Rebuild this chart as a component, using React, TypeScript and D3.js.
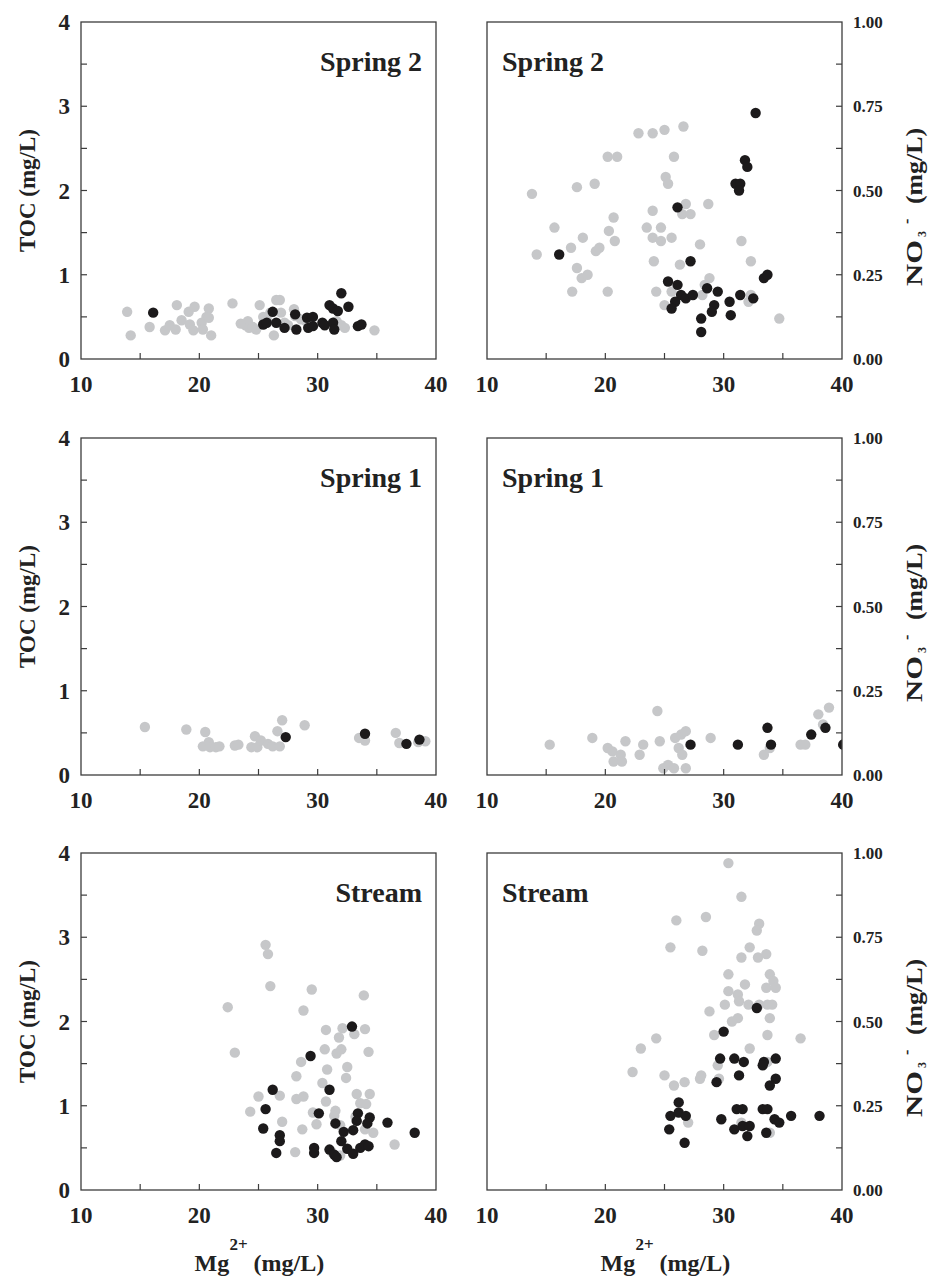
import React from 'react';
import * as d3 from 'd3';

// ---------- data: [Mg2+ (mg/L), value] ----------
const spring2TocGray: [number, number][] = [
  [13.9,0.56],[14.2,0.28],[15.8,0.38],[17.1,0.34],[17.5,0.40],[18.0,0.35],[18.1,0.64],[18.5,0.46],[19.1,0.56],[19.6,0.62],
  [19.2,0.41],[19.5,0.34],[20.2,0.43],[20.3,0.35],[20.6,0.50],[20.8,0.60],[20.8,0.49],[21.0,0.28],[22.8,0.66],[23.5,0.42],
  [23.9,0.40],[24.1,0.45],[24.2,0.37],[24.5,0.38],[24.8,0.35],[25.1,0.64],[25.4,0.50],[25.7,0.47],[26.0,0.55],[26.3,0.28],
  [26.5,0.70],[26.8,0.70],[26.9,0.55],[27.2,0.43],[27.5,0.40],[28.0,0.59],[28.1,0.51],[28.6,0.47],[29.0,0.45],[31.6,0.45],
  [32.0,0.40],[32.3,0.37],[34.8,0.34]
];
const spring2TocBlack: [number, number][] = [
  [16.1,0.55],[25.4,0.41],[25.7,0.43],[26.2,0.56],[26.5,0.43],[27.2,0.37],[28.1,0.53],[28.2,0.35],[29.1,0.49],[29.2,0.37],
  [29.6,0.50],[29.6,0.39],[30.4,0.43],[30.6,0.40],[31.0,0.64],[31.3,0.60],[31.3,0.43],[31.4,0.35],[31.7,0.57],[32.0,0.78],
  [32.6,0.62],[33.4,0.39],[33.7,0.41]
];
const spring2No3Gray: [number, number][] = [
  [13.8,0.49],[14.2,0.31],[15.7,0.39],[17.1,0.33],[17.2,0.20],[17.6,0.51],[17.6,0.27],[18.0,0.24],[18.1,0.36],[18.5,0.25],
  [19.1,0.52],[19.2,0.32],[19.5,0.33],[20.2,0.60],[20.3,0.38],[20.2,0.20],[20.7,0.42],[20.8,0.35],[21.0,0.60],[22.8,0.67],
  [23.5,0.39],[24.0,0.67],[24.0,0.44],[24.0,0.36],[24.1,0.29],[24.3,0.20],[24.7,0.39],[24.7,0.35],[25.0,0.68],[25.1,0.54],
  [25.3,0.52],[25.0,0.16],[25.6,0.20],[25.6,0.36],[25.8,0.60],[26.3,0.28],[26.6,0.69],[26.8,0.46],[26.5,0.43],[27.2,0.43],
  [28.0,0.34],[28.2,0.19],[28.7,0.46],[28.8,0.24],[28.4,0.22],[31.5,0.35],[32.3,0.29],[32.3,0.19],[32.1,0.17],[34.7,0.12]
];
const spring2No3Black: [number, number][] = [
  [16.1,0.31],[26.1,0.45],[32.7,0.73],[31.8,0.59],[32.0,0.57],[31.0,0.52],[31.4,0.52],[31.3,0.50],[27.2,0.29],[25.3,0.23],
  [26.1,0.22],[26.4,0.19],[26.8,0.18],[27.4,0.19],[25.9,0.17],[25.6,0.15],[28.6,0.21],[29.5,0.20],[29.2,0.16],[29.0,0.14],
  [28.1,0.12],[28.1,0.08],[30.5,0.17],[30.6,0.13],[31.4,0.19],[32.5,0.18],[33.4,0.24],[33.7,0.25]
];
const spring1TocGray: [number, number][] = [
  [15.4,0.57],[18.9,0.54],[20.5,0.51],[20.3,0.34],[20.8,0.39],[20.9,0.33],[21.4,0.33],[21.7,0.34],[23.0,0.35],[23.3,0.36],
  [24.4,0.33],[24.7,0.46],[24.9,0.33],[25.2,0.41],[25.8,0.37],[26.2,0.34],[26.6,0.52],[26.8,0.34],[27.0,0.65],[28.9,0.59],
  [33.5,0.44],[34.0,0.41],[36.6,0.50],[36.9,0.38],[38.5,0.39],[39.1,0.40]
];
const spring1TocBlack: [number, number][] = [[27.3,0.45],[34.0,0.49],[37.5,0.37],[38.6,0.42]];
const spring1No3Gray: [number, number][] = [
  [15.3,0.09],[18.9,0.11],[20.2,0.08],[20.6,0.07],[21.3,0.06],[20.7,0.04],[21.4,0.04],[21.7,0.10],[22.9,0.06],[23.2,0.09],
  [24.4,0.19],[24.6,0.10],[24.9,0.02],[25.3,0.03],[25.8,0.02],[25.9,0.11],[26.2,0.08],[26.4,0.12],[26.5,0.06],[26.8,0.13],
  [26.8,0.02],[28.9,0.11],[33.4,0.06],[33.9,0.08],[36.5,0.09],[36.9,0.09],[38.0,0.18],[38.9,0.20],[38.4,0.15]
];
const spring1No3Black: [number, number][] = [[27.2,0.09],[31.2,0.09],[33.7,0.14],[34.0,0.09],[37.4,0.12],[38.6,0.14],[40.1,0.09]];
const streamTocGray: [number, number][] = [
  [25.6,2.91],[25.8,2.80],[22.4,2.17],[23.0,1.63],[26.0,2.42],[29.5,2.38],[28.8,2.13],[33.9,2.31],[30.7,1.90],[32.1,1.92],
  [33.1,1.85],[34.0,1.91],[31.8,1.81],[30.6,1.67],[31.6,1.62],[32.0,1.67],[34.3,1.64],[28.6,1.52],[28.2,1.35],[30.8,1.43],
  [32.5,1.46],[32.4,1.33],[30.4,1.27],[25.0,1.11],[26.8,1.12],[28.2,1.08],[28.8,1.11],[30.7,1.05],[33.3,1.14],[34.4,1.14],
  [33.6,1.03],[34.1,1.02],[24.3,0.93],[29.6,0.92],[31.5,0.94],[31.4,0.88],[33.2,0.87],[27.0,0.81],[29.9,0.78],[31.9,0.77],
  [28.7,0.72],[34.0,0.72],[34.7,0.68],[36.5,0.54],[28.1,0.45],[31.2,0.45],[31.9,0.41]
];
const streamTocBlack: [number, number][] = [
  [32.9,1.94],[29.4,1.59],[26.2,1.19],[31.0,1.19],[25.6,0.96],[30.1,0.91],[25.4,0.73],[31.5,0.79],[26.8,0.65],[26.8,0.58],
  [32.2,0.69],[33.4,0.91],[34.4,0.86],[33.3,0.82],[34.2,0.79],[33.0,0.71],[35.9,0.80],[38.2,0.68],[32.0,0.58],[32.5,0.49],
  [33.0,0.43],[33.6,0.50],[34.0,0.54],[34.3,0.52],[29.7,0.50],[29.7,0.44],[26.5,0.44],[31.0,0.48],[31.4,0.42],[31.6,0.39]
];
const streamNo3Gray: [number, number][] = [
  [30.4,0.97],[31.5,0.87],[26.0,0.80],[28.5,0.81],[25.5,0.72],[28.2,0.71],[33.0,0.79],[32.8,0.77],[32.2,0.72],[31.5,0.69],
  [32.9,0.69],[33.6,0.70],[30.4,0.64],[33.9,0.64],[31.8,0.61],[33.6,0.60],[34.2,0.62],[34.4,0.60],[30.4,0.59],[31.2,0.58],
  [31.3,0.56],[32.1,0.55],[30.1,0.55],[33.0,0.55],[33.7,0.55],[34.1,0.55],[28.8,0.53],[31.2,0.51],[30.7,0.50],[33.9,0.51],
  [36.5,0.45],[29.2,0.46],[33.7,0.46],[24.3,0.45],[23.0,0.42],[32.2,0.42],[22.3,0.35],[25.0,0.34],[26.7,0.32],[25.8,0.31],
  [28.1,0.34],[28.0,0.33],[29.5,0.37],[29.6,0.33],[33.7,0.38],[27.0,0.20],[31.5,0.20],[33.9,0.17]
];
const streamNo3Black: [number, number][] = [
  [32.8,0.54],[30.0,0.47],[29.7,0.39],[30.9,0.39],[31.7,0.38],[33.4,0.38],[33.3,0.37],[34.4,0.39],[31.3,0.34],[34.4,0.33],
  [33.9,0.31],[29.4,0.32],[26.2,0.26],[25.5,0.22],[26.2,0.23],[26.8,0.22],[25.4,0.18],[26.7,0.14],[29.8,0.21],[31.1,0.24],
  [31.6,0.24],[33.3,0.24],[33.7,0.24],[31.6,0.19],[32.2,0.19],[32.0,0.16],[30.9,0.18],[33.6,0.17],[34.3,0.21],[34.7,0.20],
  [35.7,0.22],[38.1,0.22]
];

const panelLabels = ['Spring 2', 'Spring 1', 'Stream'];
const xTickLabels = [10, 20, 30, 40];
const xMinorTicks = [15, 20, 25, 30, 35];
const tocTickLabels = [0, 1, 2, 3, 4];
const tocMinorTicks = [0.5, 1, 1.5, 2, 2.5, 3, 3.5];
const no3TickLabels = [0, 0.25, 0.5, 0.75, 1];
const no3MinorTicks = [0.125, 0.25, 0.375, 0.5, 0.625, 0.75, 0.875];

// ---------- layout ----------
const W = 930, H = 1279;
const LEFT = [81, 436];
const RIGHT = [487, 842];
const ROW_TOP = [22, 438, 853];
const ROW_H = 337;
const FONT = '"Liberation Serif", "Times New Roman", Times, serif';
const GRAY = '#c6c7c9';
const BLACK = '#1c1a1b';
const AXIS = '#3c3c3c';
const R = 5.2;
const TICK = 6;

const rows = [
  { toc: [spring2TocGray, spring2TocBlack], no3: [spring2No3Gray, spring2No3Black] },
  { toc: [spring1TocGray, spring1TocBlack], no3: [spring1No3Gray, spring1No3Black] },
  { toc: [streamTocGray, streamTocBlack], no3: [streamNo3Gray, streamNo3Black] },
];

function Panel({ row, side, series, label }: any) {
  const [x0, x1] = side === 'left' ? LEFT : RIGHT;
  const y0 = ROW_TOP[row];
  const y1 = y0 + ROW_H;
  const x = d3.scaleLinear().domain([10, 40]).range([x0, x1]);
  const y = d3.scaleLinear().domain(side === 'left' ? [0, 4] : [0, 1]).range([y1, y0]);
  const clipId = `clip-${row}-${side}`;
  const fmt = side === 'left' ? d3.format('d') : d3.format('.2f');
  const yMinor = side === 'left' ? tocMinorTicks : no3MinorTicks;
  const yLabels = side === 'left' ? tocTickLabels : no3TickLabels;
  const cy = (y0 + y1) / 2;
  const cx = (x0 + x1) / 2;
  return (
    <g>
      <defs>
        <clipPath id={clipId}>
          <rect x={x0} y={y0} width={x1 - x0} height={y1 - y0} />
        </clipPath>
      </defs>
      {/* points */}
      <g clipPath={`url(#${clipId})`}>
        {series[0].map((d: [number, number], i: number) => (
          <circle key={'g' + i} cx={x(d[0])} cy={y(d[1])} r={R} fill={GRAY} />
        ))}
        {series[1].map((d: [number, number], i: number) => (
          <circle key={'b' + i} cx={x(d[0])} cy={y(d[1])} r={R} fill={BLACK} />
        ))}
      </g>
      {/* frame */}
      <rect x={x0} y={y0} width={x1 - x0} height={y1 - y0} fill="none" stroke={AXIS} strokeWidth={1.3} />
      {/* x ticks */}
      {xMinorTicks.map((t) => (
        <line key={'xt' + t} x1={x(t)} x2={x(t)} y1={y1} y2={y1 - TICK} stroke={AXIS} strokeWidth={1.2} />
      ))}
      {xTickLabels.map((t) => (
        <text key={'xl' + t} x={x(t)} y={y1 + 33} textAnchor="middle" fontFamily={FONT} fontWeight="bold" fontSize={23} fill="#222">
          {t}
        </text>
      ))}
      {/* y ticks */}
      {yMinor.map((t) => (
        side === 'left'
          ? <line key={'yt' + t} x1={x0} x2={x0 + TICK} y1={y(t)} y2={y(t)} stroke={AXIS} strokeWidth={1.2} />
          : <line key={'yt' + t} x1={x1} x2={x1 - TICK} y1={y(t)} y2={y(t)} stroke={AXIS} strokeWidth={1.2} />
      ))}
      {yLabels.map((t) => (
        side === 'left'
          ? <text key={'yl' + t} x={x0 - 11} y={y(t) + 8} textAnchor="end" fontFamily={FONT} fontWeight="bold" fontSize={23} fill="#222">{fmt(t)}</text>
          : <text key={'yl' + t} x={x1 + 11} y={y(t) + 6} textAnchor="start" fontFamily={FONT} fontWeight="bold" fontSize={17} fill="#222">{fmt(t)}</text>
      ))}
      {/* panel label */}
      {side === 'left'
        ? <text x={x1 - 14} y={y0 + 49} textAnchor="end" fontFamily={FONT} fontWeight="bold" fontSize={28} fill="#222">{label}</text>
        : <text x={x0 + 15} y={y0 + 49} textAnchor="start" fontFamily={FONT} fontWeight="bold" fontSize={28} fill="#222">{label}</text>}
      {/* y axis titles */}
      {side === 'left' ? (
        <text transform={`translate(35,${cy}) rotate(-90)`} textAnchor="middle" fontFamily={FONT} fontWeight="bold" fontSize={23} fill="#222">
          TOC (mg/L)
        </text>
      ) : (
        <g transform={`translate(922,${y0 + 264}) rotate(-90)`} fontFamily={FONT} fontWeight="bold" fill="#222">
          <text x={0} y={0} fontSize={23} textLength={46} lengthAdjust="spacingAndGlyphs">NO</text>
          <text x={49} y={4} fontSize={12}>3</text>
          <text x={62} y={-10} fontSize={16}>-</text>
          <text x={82} y={0} fontSize={23} textLength={76} lengthAdjust="spacingAndGlyphs">(mg/L)</text>
        </g>
      )}
      {/* x axis title (bottom row only) */}
      {row === 2 && (
        <g fontFamily={FONT} fontWeight="bold" fill="#222">
          <text x={cx - 64} y={1271} fontSize={24}>Mg</text>
          <text x={cx - 29} y={1250} fontSize={17}>2+</text>
          <text x={cx - 5} y={1271} fontSize={24}>(mg/L)</text>
        </g>
      )}
    </g>
  );
}

export default function App() {
  return (
    <svg width={W} height={H} viewBox={`0 0 ${W} ${H}`} style={{ position: 'absolute', left: 0, top: 0, background: '#fff' }}>
      <rect x={0} y={0} width={W} height={H} fill="#fff" />
      {rows.map((r, i) => (
        <g key={i}>
          <Panel row={i} side="left" series={r.toc} label={panelLabels[i]} />
          <Panel row={i} side="right" series={r.no3} label={panelLabels[i]} />
        </g>
      ))}
    </svg>
  );
}
